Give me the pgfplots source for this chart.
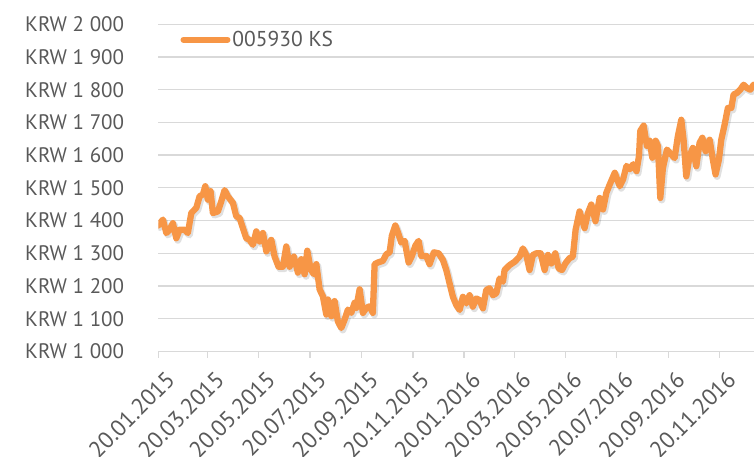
\documentclass[border=0pt]{standalone}
\usepackage{fontspec}
\setmainfont{PT Sans}
\usepackage{pgfplots}
\usepackage{pgfplotstable}
\pgfplotsset{compat=1.18}
\definecolor{lineorange}{RGB}{247,150,70}
\definecolor{txt}{RGB}{89,89,89}
\definecolor{gridc}{RGB}{217,217,217}

\pgfplotstableread{
day value
0 1385
5.5 1403
9.6 1362
13.5 1372
17.4 1392
21.5 1346
25.4 1372
31.4 1372
35.3 1362
39.4 1423
45.4 1439
49.3 1474
53.3 1480
56.1 1505
59.2 1464
62.4 1490
65.2 1423
71.2 1428
75.2 1459
79.2 1493
83.1 1474
89.1 1454
93.1 1413
97.1 1408
101 1377
105.1 1346
109 1341
113 1326
117 1367
121 1336
124.9 1362
129 1306
134.9 1341
138.9 1290
143.6 1259
148.8 1259
152.8 1321
156.8 1259
161.9 1290
166.7 1241
170.7 1282
174.7 1236
177.9 1308
181.9 1251
185.8 1236
188.7 1267
192.6 1190
196.5 1169
200.6 1113
202.5 1159
206.6 1108
210.5 1154
214.4 1092
218.5 1072
222.4 1097
226.4 1128
230.4 1118
234.4 1149
236.4 1133
240.4 1190
244.3 1118
248.4 1133
252.3 1138
256.2 1118
258.3 1267
262.2 1272
268.2 1277
272.2 1297
276.2 1303
278.9 1354
283 1385
286.1 1364
290.1 1333
294.1 1338
298.9 1272
302.8 1292
306.9 1323
310.8 1338
314 1292
320 1292
323.9 1267
329 1303
334.7 1300
339.8 1280
343.9 1249
347.8 1208
351.8 1167
355.8 1142
359.8 1127
363.7 1167
367.8 1147
371.7 1172
375.6 1137
379.7 1162
383.6 1157
387.6 1132
391.6 1188
395.6 1193
399.5 1172
403.6 1178
407.5 1223
411.5 1213
413.5 1249
419.5 1264
425.4 1274
431.4 1290
435.3 1315
439.4 1295
443.3 1249
447.3 1295
451.3 1300
456.5 1300
461.3 1249
465.2 1295
469.3 1269
474 1300
478 1254
482 1249
486 1269
491 1285
495 1290
498.3 1372
503 1428
509 1377
513 1423
517 1449
522 1398
527 1469
531 1434
535 1485
539 1510
545 1546
551 1505
555 1526
559 1567
563 1557
567 1572
571 1551
574 1598
575.5 1674
579.5 1690
583.4 1628
586.6 1644
589.9 1592
593.8 1644
596.6 1628
599.4 1469
602.5 1560
607.3 1617
612.5 1602
616.5 1591
620.4 1658
624.5 1708
627.2 1647
630.4 1535
634.4 1597
638.3 1622
642.4 1566
646.3 1637
649.6 1653
653.5 1612
658.3 1647
662.2 1586
665.4 1541
669.4 1586
672.2 1647
676.2 1693
680.1 1744
684.2 1744
686.9 1785
690.9 1790
694.9 1800
698.9 1815
702.8 1805
706.9 1800
710.8 1815
}\datatable

\begin{document}
\begin{tikzpicture}
\begin{axis}[
  scale only axis,
  width=595.7pt, height=327.3pt,
  xmin=0, xmax=711.3, ymin=1000, ymax=2000,
  axis x line*=bottom, axis y line*=left,
  y axis line style={draw=none},
  x axis line style={draw=gridc, line width=1.3pt},
  ytick={1000,1100,...,2000},
  yticklabels={KRW 1 000,KRW 1 100,KRW 1 200,KRW 1 300,KRW 1 400,KRW 1 500,KRW 1 600,KRW 1 700,KRW 1 800,KRW 1 900,KRW 2 000},
  ymajorgrids,
  grid style={draw=gridc, line width=1.3pt},
  ytick style={draw=none},
  xtick={0,59,120,181,243,304,365,425,486,547,609,670},
  xticklabels={20.01.2015,20.03.2015,20.05.2015,20.07.2015,20.09.2015,20.11.2015,20.01.2016,20.03.2016,20.05.2016,20.07.2016,20.09.2016,20.11.2016},
  tick align=outside,
  major tick length=6pt,
  xtick style={draw=gridc, line width=1.3pt},
  tick label style={text=txt},
  yticklabel style={font=\fontsize{21}{24}\selectfont, anchor=east, inner sep=0pt, xshift=-28pt},
  xticklabel style={font=\fontsize{23}{26}\selectfont, rotate=45, anchor=north east, inner sep=0pt, yshift=-13pt, xshift=-4pt},
  legend style={at={(0,1)}, anchor=west, xshift=22pt, yshift=-15.5pt,
    draw=none, fill=none, inner sep=0pt, font=\fontsize{21.5}{24}\selectfont, text=txt},
  legend cell align=left,
  legend image code/.code={\draw[line width=6pt, line cap=round, lineorange] (0pt,0pt) -- (44pt,0pt);},
]
\addplot[black, opacity=0.12, line width=7pt, line join=round, line cap=round,
  transform canvas={xshift=1.5pt, yshift=-2pt}, forget plot] table[x=day, y=value] {\datatable};
\addplot[lineorange, line width=6.3pt, line join=round, line cap=round] table[x=day, y=value] {\datatable};
\addlegendentry{005930 KS}
\end{axis}
\pgfresetboundingbox
\path (current axis.south west) ++(-158.3pt,-105.5pt) rectangle ++(754pt,457pt);
\end{tikzpicture}
\end{document}
